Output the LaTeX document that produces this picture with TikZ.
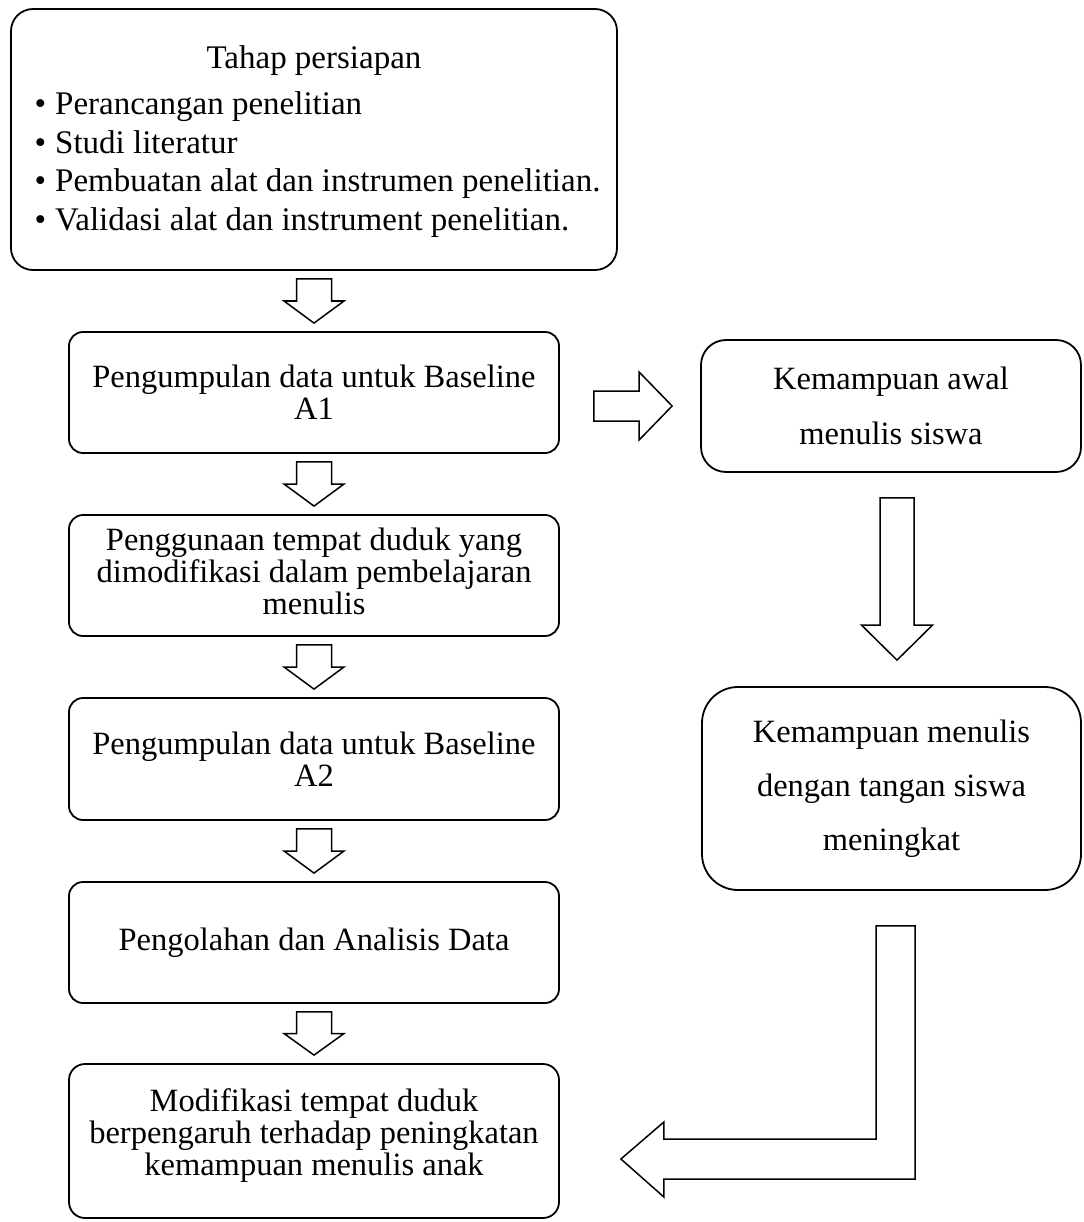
\documentclass[tikz,border=0pt]{standalone}
\usepackage{fontspec}
\setmainfont{Liberation Serif}
\usetikzlibrary{calc}
\tikzset{
  box/.style={draw=black, line width=1.8pt, rounded corners=#1, inner sep=0pt,
    align=center, font=\fontsize{32.5}{32}\selectfont},
  box/.default=14pt,
  txt/.style={inner sep=0pt, font=\fontsize{33}{33}\selectfont},
  ctxt/.style={inner sep=0pt, align=center, font=\fontsize{32.5}{32}\selectfont},
  barrow/.style={draw=black, line width=1.5pt, fill=white, line join=miter},
}
\newcommand{\blockdown}[2]{%
  \draw[barrow] let \p1=(#1.south), \p2=(#2.north), \p3=($(\p1)!0.5!(\p2)$) in
    (\x2-17.5pt,\y1-8pt) -- (\x2+17.5pt,\y1-8pt) -- (\x2+17.5pt,\y3)
    -- (\x2+30pt,\y3) -- (\x2,\y2+8pt) -- (\x2-30pt,\y3)
    -- (\x2-17.5pt,\y3) -- cycle;}
\begin{document}
\begin{tikzpicture}[x=1pt,y=-1pt]
\fill[white] (0,0) rectangle (1083,1222);
\useasboundingbox (0,0) rectangle (1083,1222);

% left column
\node[box=22pt, minimum width=606pt, minimum height=261pt] (b1) at (314,139.5) {};
\node[txt, anchor=base] (t1) at (314,69) {Tahap persiapan};
\node[txt, anchor=base west] (l1) at (34.5,115) {\makebox[20.5pt][l]{\textbullet}Perancangan penelitian};
\node[txt, anchor=base west] (l2) at (34.5,153.5) {\makebox[20.5pt][l]{\textbullet}Studi literatur};
\node[txt, anchor=base west] (l3) at (34.5,192) {\makebox[20.5pt][l]{\textbullet}Pembuatan alat dan instrumen penelitian.};
\node[txt, anchor=base west] (l4) at (34.5,230.5) {\makebox[20.5pt][l]{\textbullet}Validasi alat dan instrument penelitian.};

\node[box, minimum width=490pt, minimum height=121pt] (b2) at (314,392.5)
  {Pengumpulan data untuk Baseline\\A1};
\node[box, minimum width=490pt, minimum height=121pt] (b3) at (314,575.5) {};
\node[ctxt] (b3t) at ($(b3.center)+(0,-4)$)
  {Penggunaan tempat duduk yang\\dimodifikasi dalam pembelajaran\\menulis};
\node[box, minimum width=490pt, minimum height=122pt] (b4) at (314,759)
  {Pengumpulan data untuk Baseline\\A2};
\node[box, minimum width=490pt, minimum height=121pt] (b5) at (314,942.5)
  {Pengolahan dan Analisis Data};
\node[box=16pt, minimum width=490pt, minimum height=154pt] (b6) at (314,1141) {};
\node[ctxt] (b6t) at ($(b6.center)+(0,-5)$)
  {Modifikasi tempat duduk\\berpengaruh terhadap peningkatan\\kemampuan menulis anak};

% right column
\node[box=25pt, minimum width=380pt, minimum height=132pt,
  font=\fontsize{32.5}{55}\selectfont] (r1) at (891,406)
  {Kemampuan awal\\menulis siswa};
\node[box=36pt, minimum width=379pt, minimum height=203pt,
  font=\fontsize{32.5}{54}\selectfont] (r2) at (891.5,788.5)
  {Kemampuan menulis\\dengan tangan siswa\\meningkat};

% down block arrows
\blockdown{b1}{b2}
\blockdown{b2}{b3}
\blockdown{b3}{b4}
\blockdown{b4}{b5}
\blockdown{b5}{b6}

% right block arrow
\draw[barrow] let \p1=(b2.east), \p2=(r1.west) in
  (\x1+34pt,\y2+15pt) -- (\x2-61pt,\y2+15pt) -- (\x2-61pt,\y2+34pt)
  -- (\x2-28pt,\y2) -- (\x2-61pt,\y2-34pt) -- (\x2-61pt,\y2-15pt)
  -- (\x1+34pt,\y2-15pt) -- cycle;

% long down arrow on the right
\draw[barrow] let \p1=(r1.south), \p2=(r2.north) in
  (\x1-11pt,\y1-25pt) -- (\x1+23pt,\y1-25pt) -- (\x1+23pt,\y2+61pt)
  -- (\x1+41.5pt,\y2+61pt) -- (\x1+6pt,\y2+26pt) -- (\x1-29.5pt,\y2+61pt)
  -- (\x1-11pt,\y2+61pt) -- cycle;

% bent arrow back to the last box
\draw[barrow] let \p1=(r2.south), \p2=(b6.east) in
  (\x1-15.5pt,\y1-35pt) -- (\x1+23.5pt,\y1-35pt) -- (\x1+23.5pt,\y2-38pt)
  -- (\x2+104pt,\y2-38pt) -- (\x2+104pt,\y2-56pt) -- (\x2+61pt,\y2-18pt)
  -- (\x2+104pt,\y2+19pt) -- (\x2+104pt,\y2+2pt) -- (\x1-15.5pt,\y2+2pt)
  -- cycle;
\end{tikzpicture}
\end{document}
